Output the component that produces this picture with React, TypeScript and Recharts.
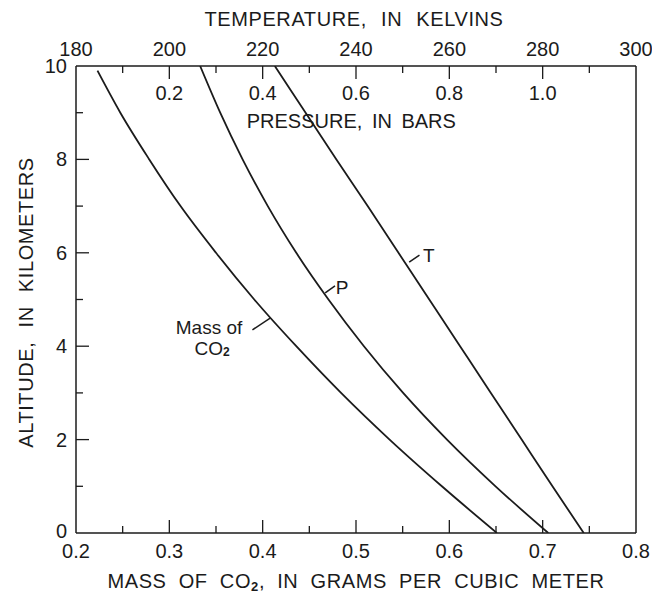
import React from 'react';
import { ScatterChart, Scatter, XAxis, YAxis, ReferenceLine, ReferenceDot } from 'recharts';

// ---------- data ----------
const altitudeTicks = [0, 1, 2, 3, 4, 5, 6, 7, 8, 9, 10];
const massTicks = [0.2, 0.25, 0.3, 0.35, 0.4, 0.45, 0.5, 0.55, 0.6, 0.65, 0.7, 0.75, 0.8];
const temperatureTicks = [180, 190, 200, 210, 220, 230, 240, 250, 260, 270, 280, 290, 300];
const pressureLabels = [0.2, 0.4, 0.6, 0.8, 1.0];

// altitude (km) vs mass of CO2 (g/m3)
const massSeries = [
  { alt: 9.9, mass: 0.223 },
  { alt: 9, mass: 0.2475 },
  { alt: 8, mass: 0.2785 },
  { alt: 7, mass: 0.312 },
  { alt: 6, mass: 0.35 },
  { alt: 5, mass: 0.391 },
  { alt: 4, mass: 0.436 },
  { alt: 3, mass: 0.484 },
  { alt: 2, mass: 0.536 },
  { alt: 1, mass: 0.592 },
  { alt: 0, mass: 0.651 },
];

// altitude (km) vs pressure (bars)
const pressureSeries = [
  { alt: 10, pres: 0.266 },
  { alt: 9, pres: 0.309 },
  { alt: 8, pres: 0.357 },
  { alt: 7, pres: 0.411 },
  { alt: 6, pres: 0.472 },
  { alt: 5, pres: 0.541 },
  { alt: 4, pres: 0.617 },
  { alt: 3, pres: 0.701 },
  { alt: 2, pres: 0.795 },
  { alt: 1, pres: 0.899 },
  { alt: 0, pres: 1.012 },
];

// altitude (km) vs temperature (K)
const temperatureSeries = [
  { alt: 10, temp: 222.6 },
  { alt: 9, temp: 229.2 },
  { alt: 8, temp: 235.8 },
  { alt: 7, temp: 242.5 },
  { alt: 6, temp: 249.1 },
  { alt: 5, temp: 255.7 },
  { alt: 4, temp: 262.3 },
  { alt: 3, temp: 268.9 },
  { alt: 2, temp: 275.5 },
  { alt: 1, temp: 282.1 },
  { alt: 0, temp: 288.8 },
];

// ---------- styles ----------
const INK = '#1b1b1b';
const FONT = '"Liberation Sans", Arial, Helvetica, sans-serif';
const FS = 20;
const MAJOR = 13;
const MINOR = 7;

const txt = { fill: INK, fontFamily: FONT, fontSize: FS } as const;
const titleTxt = { ...txt, letterSpacing: 0.6 } as const;

const MassTick = (props: any) => {
  const { x, y, payload } = props;
  const v = payload.value as number;
  const major = Math.round(v * 100) % 10 === 0;
  const edge = v <= 0.2001 || v >= 0.7999;
  return (
    <g>
      {!edge && <line x1={x} x2={x} y1={y} y2={y - (major ? MAJOR : MINOR)} stroke={INK} strokeWidth={1.3} />}
      {major && (
        <text x={x} y={y + 18} textAnchor="middle" dominantBaseline="central" {...txt}>
          {v.toFixed(1)}
        </text>
      )}
    </g>
  );
};

const TempTick = (props: any) => {
  const { x, y, payload } = props;
  const v = payload.value as number;
  const major = v % 20 === 0;
  const edge = v <= 180 || v >= 300;
  return (
    <g>
      {!edge && <line x1={x} x2={x} y1={y} y2={y + (major ? MAJOR : MINOR)} stroke={INK} strokeWidth={1.3} />}
      {major && (
        <text x={x} y={y - 17} textAnchor="middle" dominantBaseline="central" {...txt}>
          {v}
        </text>
      )}
    </g>
  );
};

const AltTick = (props: any) => {
  const { x, y, payload } = props;
  const v = payload.value as number;
  const major = v % 2 === 0;
  const edge = v <= 0 || v >= 10;
  return (
    <g>
      {!edge && <line x1={x} x2={x + (major ? MAJOR : MINOR)} y1={y} y2={y} stroke={INK} strokeWidth={1.3} />}
      {major && (
        <text x={x - 9} y={y - (v === 0 ? 2 : 0)} textAnchor="end" dominantBaseline="central" {...txt}>
          {v}
        </text>
      )}
    </g>
  );
};

const BottomTitle = (props: any) => {
  const vb = props.viewBox;
  return (
    <text x={vb.x + vb.width / 2} y={vb.y + 48} textAnchor="middle" dominantBaseline="central" {...titleTxt} wordSpacing={6}>
      <tspan>MASS OF CO</tspan>
      <tspan fontSize={13} fontWeight="bold" dy={5}>2</tspan>
      <tspan dy={-5}>, IN GRAMS PER CUBIC METER</tspan>
    </text>
  );
};

const TopTitle = (props: any) => {
  const vb = props.viewBox;
  return (
    <text x={vb.x + vb.width / 2 - 2} y={vb.y + 11} textAnchor="middle" dominantBaseline="central" {...titleTxt} wordSpacing={8}>
      TEMPERATURE, IN KELVINS
    </text>
  );
};

const LeftTitle = (props: any) => {
  const vb = props.viewBox;
  const cx = 18;
  const cy = vb.y + vb.height / 2 + 3;
  return (
    <text x={cx} y={cy} textAnchor="middle" dominantBaseline="central" transform={`rotate(-90 ${cx} ${cy})`} {...titleTxt} wordSpacing={8}>
      ALTITUDE, IN KILOMETERS
    </text>
  );
};

const textLabel = (content: React.ReactNode, dy: number, size: number = FS, spacing: number = 0) => (p: any) => {
  const vb = p.viewBox;
  return (
    <text
      x={vb.x + (vb.width || 0) / 2}
      y={vb.y + (vb.height || 0) / 2 + dy}
      textAnchor="middle"
      dominantBaseline="central"
      {...txt}
      fontSize={size}
      wordSpacing={spacing}
    >
      {content}
    </text>
  );
};

const noShape = () => <g />;

export default function App() {
  return (
    <div style={{ position: 'absolute', left: 8, top: 8 }}>
      <ScatterChart width={644} height={587} margin={{ top: 0, right: 16, bottom: 0, left: 0 }}>
        <XAxis
          xAxisId="mass"
          dataKey="mass"
          type="number"
          orientation="bottom"
          domain={[0.2, 0.8]}
          allowDataOverflow
          ticks={massTicks}
          interval={0}
          height={62}
          tickSize={0}
          tickMargin={0}
          tickLine={false}
          tick={<MassTick />}
          axisLine={{ stroke: INK, strokeWidth: 1.5 }}
          label={{ content: BottomTitle }}
        />
        <XAxis
          xAxisId="temp"
          dataKey="temp"
          type="number"
          orientation="top"
          domain={[180, 300]}
          allowDataOverflow
          ticks={temperatureTicks}
          interval={0}
          height={58}
          tickSize={0}
          tickMargin={0}
          tickLine={false}
          tick={<TempTick />}
          axisLine={{ stroke: INK, strokeWidth: 1.5 }}
          label={{ content: TopTitle }}
        />
        <XAxis xAxisId="pres" dataKey="pres" type="number" domain={[0, 1.2]} allowDataOverflow hide />
        <YAxis
          dataKey="alt"
          type="number"
          domain={[0, 10]}
          allowDataOverflow
          ticks={altitudeTicks}
          interval={0}
          width={68}
          tickSize={0}
          tickMargin={0}
          tickLine={false}
          tick={<AltTick />}
          axisLine={{ stroke: INK, strokeWidth: 1.5 }}
          label={{ content: LeftTitle }}
        />
        <ReferenceLine xAxisId="mass" x={0.8} stroke={INK} strokeWidth={1.5} />

        {pressureLabels.map((p) => (
          <ReferenceDot
            key={p}
            xAxisId="pres"
            x={p}
            y={10}
            r={1}
            fill="none"
            stroke="none"
            label={textLabel(p.toFixed(1), 27)}
          />
        ))}
        <ReferenceDot
          xAxisId="pres"
          x={0.59}
          y={10}
          r={1}
          fill="none"
          stroke="none"
          label={textLabel('PRESSURE, IN BARS', 55, FS, 4)}
        />

        <Scatter
          xAxisId="mass"
          data={massSeries}
          line={{ stroke: INK, strokeWidth: 1.8 }}
          lineJointType="monotoneX"
          shape={noShape}
          isAnimationActive={false}
        />
        <Scatter
          xAxisId="pres"
          data={pressureSeries}
          line={{ stroke: INK, strokeWidth: 1.8 }}
          lineJointType="monotoneX"
          shape={noShape}
          isAnimationActive={false}
        />
        <Scatter
          xAxisId="temp"
          data={temperatureSeries}
          line={{ stroke: INK, strokeWidth: 1.8 }}
          lineJointType="monotoneX"
          shape={noShape}
          isAnimationActive={false}
        />

        {/* series annotations */}
        <ReferenceLine xAxisId="temp" segment={[{ x: 251.4, y: 5.8 }, { x: 253.6, y: 5.95 }]} stroke={INK} strokeWidth={1.5} />
        <ReferenceDot xAxisId="temp" x={255.6} y={5.95} r={1} fill="none" stroke="none" label={textLabel('T', 0, 19)} />
        <ReferenceLine xAxisId="pres" segment={[{ x: 0.534, y: 5.14 }, { x: 0.555, y: 5.29 }]} stroke={INK} strokeWidth={1.5} />
        <ReferenceDot xAxisId="pres" x={0.57} y={5.25} r={1} fill="none" stroke="none" label={textLabel('P', 0, 19)} />
        <ReferenceLine xAxisId="mass" segment={[{ x: 0.408, y: 4.6 }, { x: 0.389, y: 4.35 }]} stroke={INK} strokeWidth={1.5} />
        <ReferenceDot xAxisId="mass" x={0.3425} y={4.4} r={1} fill="none" stroke="none" label={textLabel('Mass of', 0, 19)} />
        <ReferenceDot
          xAxisId="mass"
          x={0.3458}
          y={3.97}
          r={1}
          fill="none"
          stroke="none"
          label={textLabel(
            <>
              <tspan>CO</tspan>
              <tspan fontSize={12} fontWeight="bold" dy={4}>2</tspan>
            </>,
            0,
            19
          )}
        />
      </ScatterChart>
    </div>
  );
}
